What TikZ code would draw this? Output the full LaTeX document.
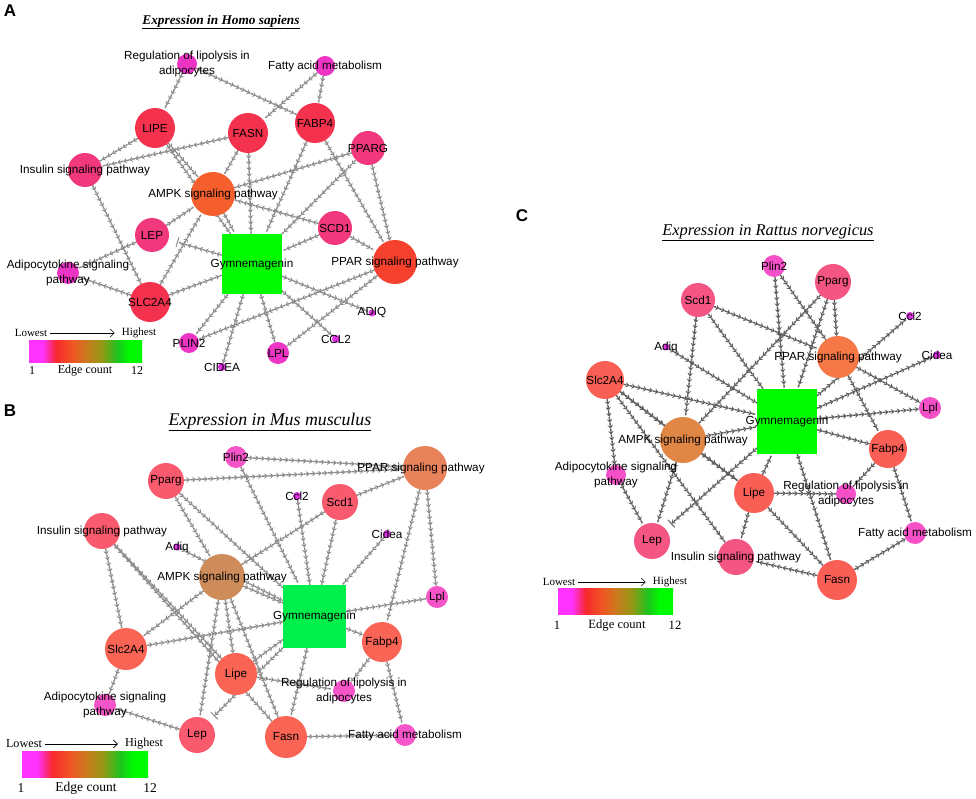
\documentclass[tikz,border=0pt]{standalone}
\usepackage{fontspec}
\setmainfont{Liberation Sans}
\newfontfamily\tnr{Liberation Serif}
\usetikzlibrary{arrows.meta,decorations.markings}
\pgfdeclarelayer{bg}
\pgfdeclarelayer{paper}
\pgfsetlayers{paper,bg,main}
% colours
\definecolor{magA}{RGB}{238,52,196}
\definecolor{redA}{RGB}{245,50,78}
\definecolor{pinkA}{RGB}{242,56,125}
\definecolor{ampkAc}{RGB}{245,95,45}
\definecolor{pparAc}{RGB}{245,65,45}
\definecolor{tinyc}{RGB}{225,50,230}
\definecolor{gymA}{RGB}{0,250,0}
\definecolor{pinkB}{RGB}{250,90,110}
\definecolor{salB}{RGB}{250,100,85}
\definecolor{pparBc}{RGB}{232,130,90}
\definecolor{ampkBc}{RGB}{205,140,90}
\definecolor{magB}{RGB}{245,85,200}
\definecolor{gymBc}{RGB}{0,240,75}
\definecolor{pinkC}{RGB}{245,85,130}
\definecolor{salC}{RGB}{250,95,85}
\definecolor{pparCc}{RGB}{245,120,70}
\definecolor{ampkCc}{RGB}{225,135,70}
\definecolor{magC}{RGB}{245,80,200}
\definecolor{edgeA}{RGB}{140,140,140}
\definecolor{edgeC}{RGB}{95,95,95}
\definecolor{lgm}{RGB}{255,50,255}
\definecolor{lgr}{RGB}{248,40,45}
\definecolor{lgo}{RGB}{240,85,35}
\definecolor{lgb}{RGB}{205,120,30}
\definecolor{lgol}{RGB}{150,150,20}
\definecolor{lgg}{RGB}{30,195,30}
\definecolor{lgl}{RGB}{0,250,0}
\pgfdeclarehorizontalshading{edgegrad}{100bp}{color(0bp)=(lgm); color(25bp)=(lgm); color(31bp)=(lgm); color(37bp)=(lgr); color(44bp)=(lgo); color(50bp)=(lgb); color(57bp)=(lgol); color(64bp)=(lgg); color(69bp)=(lgl); color(75bp)=(lgl); color(100bp)=(lgl)}
\tikzset{
  nd/.style={circle, inner sep=0pt, outer sep=0pt, minimum size=#1},
  sq/.style={rectangle, inner sep=0pt, outer sep=0pt, minimum width=#1, minimum height=#1},
  lab/.style={font=\fontsize{11.7}{14.5}\selectfont, align=center, inner sep=0pt},
  edbase/.style={line width=1.4pt, dash pattern=on 3pt off 3pt, postaction={decorate},
    decoration={markings, mark=between positions 0 and 1 step 6pt with {\arrow{Stealth[length=3.6pt,width=5.4pt]}}}},
  edA/.style={edbase, draw=edgeA, color=edgeA},
  edC/.style={edbase, draw=edgeC, color=edgeC},
  inhib/.style={-{Bar[width=10pt,line width=1pt]}},
  legt/.style={font=\tnr\fontsize{#1}{#1}\selectfont, inner sep=1pt},
  legarr/.style={-{Straight Barb[length=4pt,width=8pt]}, line width=0.6pt, black},
  letter/.style={font=\bfseries\fontsize{17}{17}\selectfont, inner sep=0pt},
}
\begin{document}
\begin{tikzpicture}[x=1pt,y=-1pt]
\begin{pgfonlayer}{paper}
\fill[white] (0,0) rectangle (976,799);
\end{pgfonlayer}
\useasboundingbox (0,0) rectangle (976,799);

%%%%%%%%%%%%%%%% Panel A
\node[letter] (letA) at (10,11) {A};
\node[font=\tnr\bfseries\itshape\fontsize{13.3}{14}\selectfont, inner sep=0pt] (titA) at (221,22) {\underline{Expression in Homo sapiens}};
\node[nd=20, fill=magA, label={[lab]center:{Regulation of lipolysis in\\adipocytes}}] (regA) at (187,64) {};
\node[nd=20, fill=magA, label={[lab]center:Fatty acid metabolism}] (fatA) at (325,66) {};
\node[nd=40, fill=redA, label={[lab]center:LIPE}] (lipeA) at (155,128) {};
\node[nd=40, fill=redA, label={[lab]center:FASN}] (fasnA) at (248,133) {};
\node[nd=40, fill=redA, label={[lab]center:FABP4}] (fabA) at (315,123) {};
\node[nd=34, fill=pinkA, label={[lab]center:PPARG}] (ppargA) at (368,148) {};
\node[nd=34, fill=pinkA, label={[lab]center:Insulin signaling pathway}] (insA) at (85,170) {};
\node[nd=44, fill=ampkAc, label={[lab]center:AMPK signaling pathway}] (ampkA) at (213,194) {};
\node[nd=34, fill=pinkA, label={[lab]center:LEP}] (lepA) at (152,235) {};
\node[sq=60, fill=gymA, label={[lab]center:Gymnemagenin}] (gymA) at (252,264) {};
\node[nd=22, fill=magA, label={[lab]center:{Adipocytokine signaling\\pathway}}] (adiA) at (68,273) {};
\node[nd=40, fill=redA, label={[lab]center:SLC2A4}] (slcA) at (150,302) {};
\node[nd=34, fill=pinkA, label={[lab]center:SCD1}] (scdA) at (335,228) {};
\node[nd=44, fill=pparAc, label={[lab]center:PPAR signaling pathway}] (pparA) at (395,262) {};
\node[nd=7, fill=tinyc, label={[lab]center:ADIQ}] (adiqA) at (372,313) {};
\node[nd=8, fill=tinyc, label={[lab]center:CCL2}] (cclA) at (336,339) {};
\node[nd=22, fill=magA, label={[lab]center:LPL}] (lplA) at (278,353) {};
\node[nd=20, fill=magA, label={[lab]center:PLIN2}] (plinA) at (189,343) {};
\node[nd=8, fill=tinyc, label={[lab]center:CIDEA}] (cidA) at (222,367) {};
\coordinate (tA) at (177,242);

% legend A
\node[legt=11] (lowA) at (31,333) {Lowest};
\node[legt=11] (highA) at (139,333) {Highest};
\draw[legarr, shorten <=2pt, shorten >=6pt] (lowA) -- (highA);
\shade[shading=edgegrad] (29,340) rectangle (142,362);
\node[legt=12] (oneA) at (32,371) {1};
\node[legt=12] (ecA) at (85,371) {Edge count};
\node[legt=12] (twA) at (137,371) {12};

%%%%%%%%%%%%%%%% Panel B
\node[letter] (letB) at (10,411) {B};
\node[font=\tnr\itshape\fontsize{17.8}{18}\selectfont, inner sep=0pt] (titB) at (270,422) {\underline{Expression in Mus musculus}};
\node[nd=22, fill=magB, label={[lab]center:Plin2}] (plinB) at (236,457) {};
\node[nd=36, fill=pinkB, label={[lab]center:Pparg}] (ppargB) at (166,481) {};
\node[nd=44, fill=pparBc, label={[lab,xshift=-4pt]center:PPAR signaling pathway}] (pparB) at (425,468) {};
\node[nd=8, fill=tinyc, label={[lab]center:Ccl2}] (cclB) at (297,496) {};
\node[nd=36, fill=pinkB, label={[lab]center:Scd1}] (scdB) at (340,502) {};
\node[nd=8, fill=tinyc, label={[lab]center:Cidea}] (cidB) at (387,534) {};
\node[nd=36, fill=pinkB, label={[lab]center:Insulin signaling pathway}] (insB) at (102,531) {};
\node[nd=7, fill=tinyc, label={[lab]center:Adiq}] (adiqB) at (177,547) {};
\node[nd=46, fill=ampkBc, label={[lab]center:AMPK signaling pathway}] (ampkB) at (222,577) {};
\node[sq=63, fill=gymBc, label={[lab]center:Gymnemagenin}] (gymB) at (314.5,616.5) {};
\node[nd=22, fill=magB, label={[lab]center:Lpl}] (lplB) at (437,597) {};
\node[nd=42, fill=salB, label={[lab]center:Slc2A4}] (slcB) at (126,649) {};
\node[nd=42, fill=salB, label={[lab]center:Lipe}] (lipeB) at (236,674) {};
\node[nd=40, fill=salB, label={[lab]center:Fabp4}] (fabB) at (382,642) {};
\node[nd=22, fill=magB, label={[lab]center:{Adipocytokine signaling\\pathway}}] (adiB) at (105,705) {};
\node[nd=36, fill=pinkB, label={[lab]center:Lep}] (lepB) at (197,735) {};
\node[nd=22, fill=magB, label={[lab]center:{Regulation of lipolysis in\\adipocytes}}] (regB) at (344,691) {};
\node[nd=42, fill=salB, label={[lab]center:Fasn}] (fasnB) at (286,737) {};
\node[nd=22, fill=magB, label={[lab]center:Fatty acid metabolism}] (fatB) at (405,735) {};
\coordinate (tB) at (214,716);

% legend B
\node[legt=12.2] (lowB) at (24,744) {Lowest};
\node[legt=12.2] (highB) at (144,744) {Highest};
\draw[legarr, shorten <=2pt, shorten >=6pt] (lowB) -- (highB);
\shade[shading=edgegrad] (22,751) rectangle (148,777);
\node[legt=13.5] (oneB) at (21,788) {1};
\node[legt=13.5] (ecB) at (86,788) {Edge count};
\node[legt=13.5] (twB) at (150,788) {12};

%%%%%%%%%%%%%%%% Panel C
\node[letter] (letC) at (522,216) {C};
\node[font=\tnr\itshape\fontsize{16.4}{17}\selectfont, inner sep=0pt] (titC) at (768,233) {\underline{Expression in Rattus norvegicus}};
\node[nd=34, fill=pinkC, label={[lab]center:Scd1}] (scdC) at (698,300) {};
\node[nd=22, fill=magC, label={[lab]center:Plin2}] (plinC) at (774,266) {};
\node[nd=36, fill=pinkC, label={[lab]center:Pparg}] (ppargC) at (833,282) {};
\node[nd=8, fill=tinyc, label={[lab]center:Ccl2}] (cclC) at (910,316) {};
\node[nd=7, fill=tinyc, label={[lab]center:Adiq}] (adiqC) at (666,347) {};
\node[nd=42, fill=pparCc, label={[lab]center:PPAR signaling pathway}] (pparC) at (838,357) {};
\node[nd=8, fill=tinyc, label={[lab]center:Cidea}] (cidC) at (937,355) {};
\node[nd=38, fill=salC, label={[lab]center:Slc2A4}] (slcC) at (605,380) {};
\node[rectangle, inner sep=0pt, outer sep=0pt, minimum width=60, minimum height=65, fill=gymA, label={[lab]center:Gymnemagenin}] (gymC) at (787,421.5) {};
\node[nd=22, fill=magC, label={[lab]center:Lpl}] (lplC) at (930,408) {};
\node[nd=46, fill=ampkCc, label={[lab]center:AMPK signaling pathway}] (ampkC) at (683,440) {};
\node[nd=38, fill=salC, label={[lab]center:Fabp4}] (fabC) at (888,449) {};
\node[nd=20, fill=magC, label={[lab]center:{Adipocytokine signaling\\pathway}}] (adiC) at (616,475) {};
\node[nd=40, fill=salC, label={[lab]center:Lipe}] (lipeC) at (754,493) {};
\node[nd=20, fill=magC, label={[lab]center:{Regulation of lipolysis in\\adipocytes}}] (regC) at (846,494) {};
\node[nd=36, fill=pinkC, label={[lab]center:Lep}] (lepC) at (652,541) {};
\node[nd=36, fill=pinkC, label={[lab]center:Insulin signaling pathway}] (insC) at (736,557) {};
\node[nd=22, fill=magC, label={[lab]center:Fatty acid metabolism}] (fatC) at (915,533) {};
\node[nd=40, fill=salC, label={[lab]center:Fasn}] (fasnC) at (837,580) {};
\coordinate (tC) at (671,524);

% legend C
\node[legt=11] (lowC) at (559,582) {Lowest};
\node[legt=11] (highC) at (670,582) {Highest};
\draw[legarr, shorten <=2pt, shorten >=6pt] (lowC) -- (highC);
\shade[shading=edgegrad] (558,588) rectangle (673,614);
\node[legt=12.6] (oneC) at (557,625) {1};
\node[legt=12.6] (ecC) at (617,625) {Edge count};
\node[legt=12.6] (twC) at (675,625) {12};

%%%%%%%%%%%%%%%% edges
\begin{pgfonlayer}{bg}
\foreach \a/\b in {regA/lipeA, regA/fabA, fatA/fasnA, fatA/fabA, lipeA/insA, fasnA/insA,
  lipeA/ampkA, lipeA/gymA, fasnA/ampkA, fasnA/gymA, fabA/gymA, fabA/pparA, ppargA/ampkA,
  ppargA/pparA, ppargA/gymA, insA/slcA, lepA/ampkA, lepA/adiA, slcA/adiA, slcA/ampkA,
  slcA/gymA, scdA/ampkA, scdA/gymA, scdA/pparA, ampkA/gymA, gymA/adiqA, gymA/cclA,
  gymA/lplA, gymA/plinA, gymA/cidA, pparA/lplA, pparA/plinA}
  \draw[edA] (\a) -- (\b);
\draw[edA, inhib] (gymA) -- (tA);

\foreach \a/\b in {plinB/pparB, ppargB/pparB, ppargB/ampkB, ppargB/gymB, plinB/gymB,
  cclB/gymB, scdB/gymB, scdB/pparB, scdB/ampkB, cidB/gymB, pparB/fabB, pparB/lplB,
  gymB/lplB, gymB/fabB, insB/lipeB, insB/fasnB, insB/slcB, ampkB/slcB, ampkB/lipeB,
  ampkB/lepB, ampkB/fasnB, ampkB/gymB, slcB/gymB, slcB/adiB, lepB/adiB, lipeB/gymB,
  lipeB/regB, gymB/fasnB, fabB/regB, fabB/fatB, fasnB/fatB, adiqB/gymB}
  \draw[edA] (\a) -- (\b);
\draw[edA, inhib] (gymB) -- (tB);

\foreach \a/\b in {scdC/pparC, scdC/gymC, scdC/ampkC, adiqC/gymC, slcC/gymC, slcC/adiC,
  slcC/ampkC, slcC/lipeC, slcC/insC, plinC/gymC, plinC/pparC, ppargC/pparC, ppargC/ampkC,
  ppargC/gymC, gymC/cclC, gymC/cidC, gymC/lplC, pparC/lplC, pparC/fabC, gymC/fabC,
  ampkC/gymC, ampkC/lipeC, ampkC/lepC, adiC/lepC, lipeC/gymC, lipeC/regC, lipeC/insC,
  lipeC/fasnC, gymC/fasnC, fabC/regC, fabC/fatC, fasnC/fatC, fasnC/insC}
  \draw[edC] (\a) -- (\b);
\draw[edC, inhib] (gymC) -- (tC);
\end{pgfonlayer}
\end{tikzpicture}
\end{document}
